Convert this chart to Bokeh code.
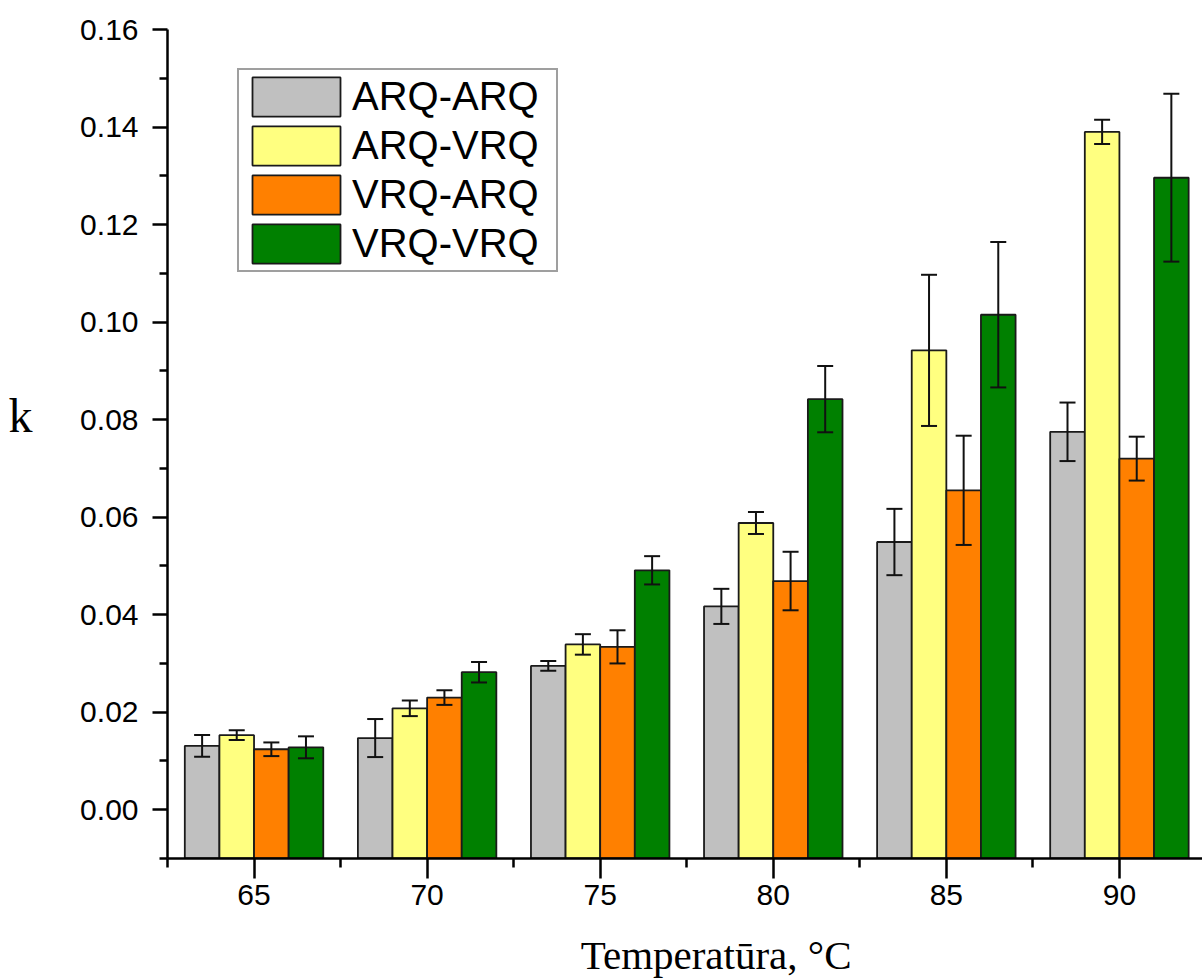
from bokeh.plotting import figure
from bokeh.models import (ColumnDataSource, Range1d, FixedTicker, NumeralTickFormatter,
                          Whisker, TeeHead, Legend, LegendItem, LinearAxis,
                          CustomJSTickFormatter)
from bokeh.embed import file_html
from bokeh.resources import INLINE

# ---------------- data ----------------
temperatures = [65, 70, 75, 80, 85, 90]
series_names = ["ARQ-ARQ", "ARQ-VRQ", "VRQ-ARQ", "VRQ-VRQ"]
series_colors = ["#C0C0C0", "#FFFF80", "#FF8000", "#008000"]

arq_arq = [0.0131, 0.0147, 0.0295, 0.0417, 0.0549, 0.0775]
arq_arq_err = [0.00225, 0.0039, 0.0010, 0.0036, 0.0068, 0.0060]
arq_vrq = [0.0153, 0.0208, 0.0339, 0.0588, 0.0942, 0.1390]
arq_vrq_err = [0.0010, 0.0016, 0.0021, 0.00225, 0.0155, 0.0025]
vrq_arq = [0.0124, 0.0230, 0.0334, 0.0469, 0.0655, 0.0720]
vrq_arq_err = [0.0014, 0.0015, 0.0034, 0.0060, 0.0112, 0.0045]
vrq_vrq = [0.0128, 0.0282, 0.0491, 0.0842, 0.1015, 0.1296]
vrq_vrq_err = [0.00225, 0.0021, 0.0029, 0.0068, 0.0149, 0.0172]

y_ticks = [0.00, 0.02, 0.04, 0.06, 0.08, 0.10, 0.12, 0.14, 0.16]
y_minor_ticks = [-0.01, 0.01, 0.03, 0.05, 0.07, 0.09, 0.11, 0.13, 0.15]
x_minor_ticks = [t - 2.5 for t in temperatures] + [temperatures[-1] + 2.5]

x_title = "Temperatūra, °C"
y_title = "k"

values = [arq_arq, arq_vrq, vrq_arq, vrq_vrq]
errors = [arq_arq_err, arq_vrq_err, vrq_arq_err, vrq_vrq_err]

# ---------------- layout constants ----------------
Y_START, Y_END = -0.01, 0.16
X_START, X_END = 62.5, 92.4
bar_offsets = [-1.5, -0.5, 0.5, 1.5]
bar_width = 1.0
X_TITLE_POS = 78.35   # where the x title is centred along the axis
Y_TITLE_POS = 0.0808  # where the y title is centred along the axis

p = figure(width=1202, height=980, output_backend="svg", toolbar_location=None,
           x_range=Range1d(X_START, X_END), y_range=Range1d(Y_START, Y_END),
           min_border_left=167, min_border_right=0, min_border_top=29,
           min_border_bottom=121)
p.outline_line_color = None
p.xgrid.visible = False
p.ygrid.visible = False
p.background_fill_color = "white"

items = []
for name, color, vals, errs, off in zip(series_names, series_colors, values, errors, bar_offsets):
    src = ColumnDataSource(dict(
        x=[t + off for t in temperatures],
        top=vals,
        upper=[v + e for v, e in zip(vals, errs)],
        lower=[v - e for v, e in zip(vals, errs)],
    ))
    r = p.vbar(x="x", top="top", bottom=Y_START, width=bar_width, source=src,
               fill_color=color, line_color="#1a1a1a", line_width=1.8)
    w = Whisker(source=src, base="x", upper="upper", lower="lower", dimension="height",
                line_color="#111111", line_width=2, level="annotation",
                upper_head=TeeHead(size=16, line_color="#111111", line_width=2),
                lower_head=TeeHead(size=16, line_color="#111111", line_width=2))
    p.add_layout(w)
    items.append(LegendItem(label=name, renderers=[r]))

legend = Legend(items=items, location=(70, 586), margin=0, padding=2, spacing=0,
                glyph_width=110, glyph_height=49, label_height=49, label_width=202,
                label_standoff=1, label_text_font="Liberation Sans",
                label_text_font_size="40px", label_text_color="black",
                border_line_color="#404040", border_line_width=2,
                background_fill_color="white", background_fill_alpha=1.0)
p.add_layout(legend)

# y axis
ya = p.yaxis[0]
ya.ticker = FixedTicker(ticks=y_ticks, minor_ticks=y_minor_ticks)
ya.formatter = NumeralTickFormatter(format="0.00")
ya.axis_line_width = 2.5
ya.axis_line_color = "black"
ya.major_tick_line_width = 2.5
ya.minor_tick_line_width = 2.5
ya.major_tick_out = 15
ya.major_tick_in = 0
ya.minor_tick_out = 8
ya.minor_tick_in = 0
ya.major_label_standoff = 14
ya.major_label_text_font = "Liberation Sans"
ya.major_label_text_font_size = "30px"
ya.major_label_text_color = "black"

# y axis title "k", written horizontally beside the axis (outer side panel)
y_title_axis = LinearAxis(ticker=FixedTicker(ticks=[Y_TITLE_POS]),
                          formatter=CustomJSTickFormatter(args=dict(t=y_title), code="return t"),
                          axis_line_color=None, major_tick_line_color=None,
                          minor_tick_line_color=None, major_tick_out=0, major_tick_in=0,
                          minor_tick_out=0, minor_tick_in=0, major_label_standoff=45,
                          major_label_text_font="Liberation Serif",
                          major_label_text_font_size="48px", major_label_text_color="black")
p.add_layout(y_title_axis, "left")

# x axis
xa = p.xaxis[0]
xa.ticker = FixedTicker(ticks=temperatures, minor_ticks=x_minor_ticks)
xa.axis_line_width = 2.5
xa.axis_line_color = "black"
xa.major_tick_line_width = 2.5
xa.minor_tick_line_width = 2.5
xa.major_tick_out = 20
xa.major_tick_in = 0
xa.minor_tick_out = 9
xa.minor_tick_in = 0
xa.major_label_standoff = 6
xa.major_label_text_font = "Liberation Sans"
xa.major_label_text_font_size = "30px"
xa.major_label_text_color = "black"

# x axis title (outer side panel)
x_title_axis = LinearAxis(ticker=FixedTicker(ticks=[X_TITLE_POS]),
                          formatter=CustomJSTickFormatter(args=dict(t=x_title), code="return t"),
                          axis_line_color=None, major_tick_line_color=None,
                          minor_tick_line_color=None, major_tick_out=0, major_tick_in=0,
                          minor_tick_out=0, minor_tick_in=0, major_label_standoff=24,
                          major_label_text_font="Liberation Serif",
                          major_label_text_font_size="41px", major_label_text_color="black")
p.add_layout(x_title_axis, "below")

open("out.html", "w").write(file_html(p, INLINE))
